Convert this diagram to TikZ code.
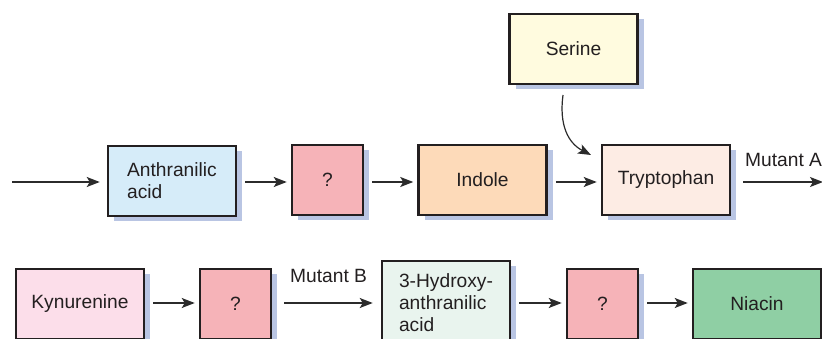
\documentclass[tikz,border=0pt]{standalone}
\usepackage{fontspec}
\setmainfont{Liberation Sans}
\usetikzlibrary{arrows.meta}
\definecolor{shd}{HTML}{B9C5E3}
\definecolor{cblue}{HTML}{D6ECF9}
\definecolor{cpink}{HTML}{F6B3B8}
\definecolor{cpeach}{HTML}{FDDAB9}
\definecolor{ctryp}{HTML}{FDECE4}
\definecolor{cser}{HTML}{FFFBDF}
\definecolor{ckyn}{HTML}{FCDEEA}
\definecolor{chyd}{HTML}{E9F4EE}
\definecolor{cnia}{HTML}{8FCFA4}
\definecolor{edge}{HTML}{231F20}
\definecolor{arr}{HTML}{2B2B2B}
\tikzset{
  box/.style={rectangle, draw=edge, line width=2.5pt, fill=#1, inner sep=0pt,
    minimum height=70pt, text=edge, font=\fontsize{19.2}{22}\selectfont,
    preaction={fill=shd, draw=none, transform canvas={shift={(6pt,-5pt)}}}},
  wide/.style={minimum width=128pt},
  sq/.style={minimum width=71pt},
  flow/.style={draw=arr, line width=1.4pt, -{Stealth[length=13pt,width=10pt,inset=3pt]}},
  lab/.style={text=edge, font=\fontsize{19.2}{22}\selectfont, inner sep=0pt, anchor=base west}
}
\begin{document}
\begin{tikzpicture}[x=1pt,y=-1pt]
\useasboundingbox (0,0) rectangle (822,339);
\clip (0,0) rectangle (822,339);
% top row
\node[box=cblue, wide, align=left] (anth) at (172,181) {Anthranilic\\acid};
\node[box=cpink, sq] (q1) at (327.5,180) {?};
\node[box=cpeach, wide] (ind) at (482.5,180) {Indole};
\node[box=ctryp, wide] (tryp) at (666,180) {Tryptophan};
\node[box=cser, wide] (ser) at (573.5,49) {Serine};
\coordinate (start) at (12,182);
\coordinate (endA) at (823,182);
\coordinate (curvS) at (563,95);
\coordinate (curvE) at (591,155);
\draw[flow] (start) -- ([xshift=-7pt]anth.west |- start);
\draw[flow] ([xshift=8pt]anth.east |- start) -- ([xshift=-4pt]q1.west |- start);
\draw[flow] ([xshift=8pt]q1.east |- start) -- ([xshift=-4pt]ind.west |- start);
\draw[flow] ([xshift=8pt]ind.east |- start) -- ([xshift=-4pt]tryp.west |- start);
\draw[flow] ([xshift=12pt]tryp.east |- start) -- (endA);
\node[lab] (mA) at (745,167) {Mutant A};
\draw[flow, line width=1.2pt] (curvS) .. controls (559,125) and (568,143) .. (curvE);
% bottom row
\node[box=ckyn, wide] (kyn) at (80,304) {Kynurenine};
\node[box=cpink, sq] (q2) at (235.5,304) {?};
\node[box=chyd, wide, minimum height=84pt, align=left] (hyd) at (446,303) {3-Hydroxy-\\anthranilic\\acid};
\node[box=cpink, sq] (q3) at (602.5,304) {?};
\node[box=cnia, wide] (nia) at (757,304) {Niacin};
\coordinate (row2) at (0,303);
\draw[flow] ([xshift=8pt]kyn.east |- row2) -- ([xshift=-4pt]q2.west |- row2);
\draw[flow] ([xshift=12pt]q2.east |- row2) -- ([xshift=-8pt]hyd.west |- row2);
\node[lab] (mB) at (290,282) {Mutant B};
\draw[flow] ([xshift=8pt]hyd.east |- row2) -- ([xshift=-4pt]q3.west |- row2);
\draw[flow] ([xshift=8pt]q3.east |- row2) -- ([xshift=-4pt]nia.west |- row2);
\end{tikzpicture}
\end{document}
